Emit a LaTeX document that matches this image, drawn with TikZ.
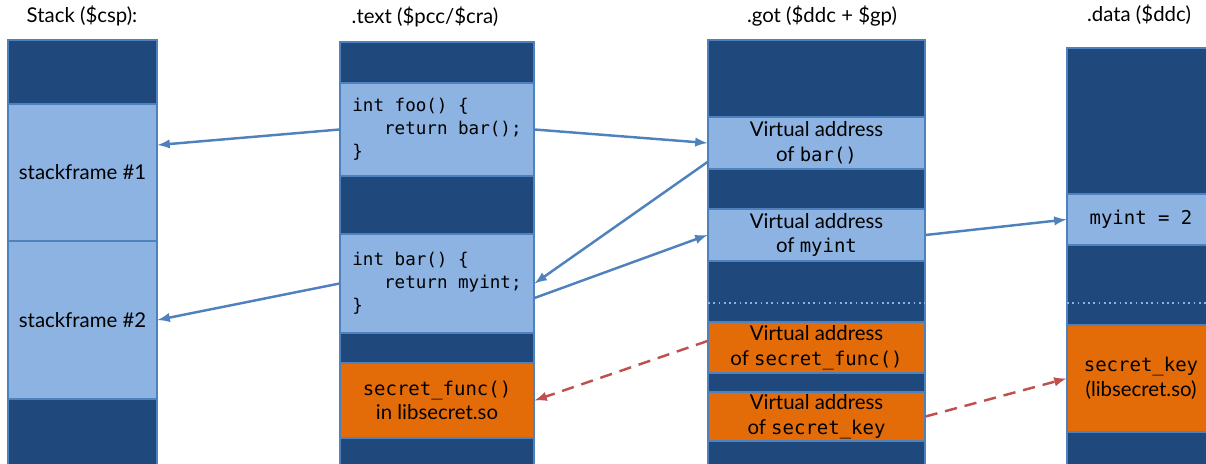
\documentclass[tikz,border=0pt]{standalone}
\usepackage{fontspec}
\setmainfont{Lato}
\setmonofont{DejaVu Sans Mono}
\usepackage{xcolor}

\definecolor{darkcell}{RGB}{31,73,125}
\definecolor{lightcell}{RGB}{141,179,226}
\definecolor{orangecell}{RGB}{227,108,9}
\definecolor{edgeblue}{RGB}{79,129,189}
\definecolor{leakred}{RGB}{192,80,77}

% identifiers inside the cells
\newcommand{\cname}[1]{{\ttfamily\fontsize{10.8}{14}\selectfont #1}}

\begin{document}
\begin{tikzpicture}[x=0.02cm,y=-0.02cm]
		\tikzstyle{every node}+=[inner sep=0pt]
		\tikzstyle{cell}=[draw=edgeblue, line width=0.6pt, align=center, font=\fontsize{11.6}{14}\selectfont]
		\tikzstyle{code}=[cell, font=\ttfamily\fontsize{10}{13}\selectfont, align=left]
		\tikzstyle{heading}=[font=\fontsize{11.6}{13}\selectfont]
		\tikzstyle{ptr}=[edgeblue, line width=1.4pt, -latex]
		\tikzstyle{leak}=[leakred, line width=1.4pt, dash pattern=on 7pt off 4.5pt, -latex]
		\useasboundingbox (0,0) rectangle (1206,463);
		% section headings
		\node[heading] (stacktitle) at (82,16) {Stack (\$csp):};
		\node[heading] (texttitle) at (425,17) {.text (\$pcc/\$cra)};
		\node[heading] (gottitle) at (822,16) {.got (\$ddc + \$gp)};
		\node[heading] (datatitle) at (1139,15) {.data (\$ddc)};
		% column backgrounds
		\draw [edgeblue, fill=darkcell, line width=0.6pt] (8,40) rectangle (157,470);
		\draw [edgeblue, fill=darkcell, line width=0.6pt] (340,42) rectangle (534,470);
		\draw [edgeblue, fill=darkcell, line width=0.6pt] (708,40) rectangle (925,470);
		\draw [edgeblue, fill=darkcell, line width=0.6pt] (1067,48) rectangle (1215,470);
		\draw [lightcell, dotted, line width=1pt] (708,303) -- (925,303);
		\draw [lightcell, dotted, line width=1pt] (1067,303) -- (1215,303);
		% stack frames
		\node[cell, fill=lightcell, minimum width=2.98cm, minimum height=2.74cm] (sf1) at (82.5,172.5) {stackframe \#1};
		\node[cell, fill=lightcell, minimum width=2.98cm, minimum height=3.16cm] (sf2) at (82.5,320) {stackframe \#2};
		% code
		\node[code, fill=lightcell, minimum width=3.88cm, minimum height=1.86cm] (foo) at (437,129.5) {int foo() \{\\\phantom{int}return bar();\\\}};
		\node[code, fill=lightcell, minimum width=3.88cm, minimum height=1.98cm] (bar) at (437,283.5) {int bar() \{\\\phantom{int}return myint;\\\}};
		\node[cell, fill=orangecell, minimum width=3.88cm, minimum height=1.5cm] (textsf) at (437,400.5) {\cname{secret\_func()}\\in libsecret.so};
		% global offset table
		\node[cell, fill=lightcell, minimum width=4.34cm, minimum height=1.04cm] (gotbar) at (816.5,143) {Virtual address\\of \cname{bar()}};
		\node[cell, fill=lightcell, minimum width=4.34cm, minimum height=1.04cm] (gotmyint) at (816.5,235) {Virtual address\\of \cname{myint}};
		\node[cell, fill=orangecell, minimum width=4.34cm, minimum height=1.02cm] (gotsf) at (816.5,347.5) {Virtual address\\of \cname{secret\_func()}};
		\node[cell, fill=orangecell, minimum width=4.34cm, minimum height=0.98cm] (gotsk) at (816.5,416.5) {Virtual address\\of \cname{secret\_key}};
		% data
		\node[cell, fill=lightcell, minimum width=2.96cm, minimum height=1.02cm] (datamyint) at (1141,219.5) {\cname{myint = 2}};
		\node[cell, fill=orangecell, minimum width=2.96cm, minimum height=2.14cm] (datask) at (1141,378.5) {\cname{secret\_key}\\(libsecret.so)};
		% pointers
		\draw[ptr] (foo.west) -- ([yshift=0.55cm]sf1.east);
		\draw[ptr] (foo.east) -- (gotbar.west);
		\draw[ptr] ([yshift=-0.38cm]gotbar.west) -- (bar.east);
		\draw[ptr] ([yshift=-0.29cm]bar.east) -- (gotmyint.west);
		\draw[ptr] (bar.west) -- (sf2.east);
		\draw[ptr] (gotmyint.east) -- (datamyint.west);
		\draw[leak] ([yshift=0.13cm]gotsf.west) -- (textsf.east);
		\draw[leak] (gotsk.east) -- (datask.west);
	\end{tikzpicture}
\end{document}
